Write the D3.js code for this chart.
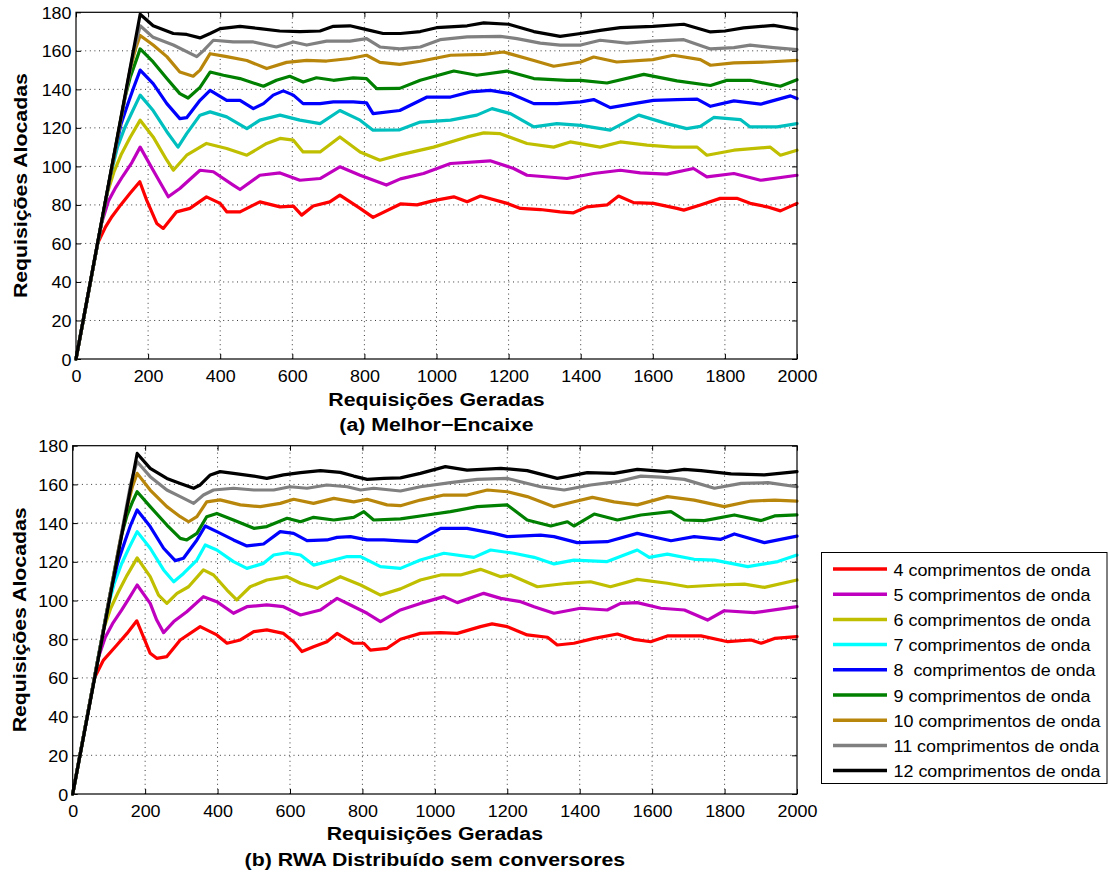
<!DOCTYPE html>
<html><head><meta charset="utf-8">
<script src="https://cdn.jsdelivr.net/npm/d3@7"></script>
<style>body{margin:0;background:#fff} svg{display:block}</style>
</head><body>
<svg id="c" width="1109" height="876"></svg>
<script>
// ---------- data ----------
const xTicks = [0,200,400,600,800,1000,1200,1400,1600,1800,2000];
const yTicks = [0,20,40,60,80,100,120,140,160,180];
const seriesLabels = ["4 comprimentos de onda","5 comprimentos de onda","6 comprimentos de onda",
  "7 comprimentos de onda","8  comprimentos de onda","9 comprimentos de onda",
  "10 comprimentos de onda","11 comprimentos de onda","12 comprimentos de onda"];
const xTitle = "Requisições Geradas";
const yTitle = "Requisições Alocadas";
const subTitleA = "(a) Melhor\u2212Encaixe";
const subTitleB = "(b) RWA Distribuído sem conversores";

// (a) Melhor-Encaixe : [requisições geradas, requisições alocadas]
const a4 = [[0,0],[60,60],[82,68.6],[100,74],[124,80],[150,86],[177,92],[196,82.5],[224,70.4],[242,67.8],[279,76.4],[316,78.2],[362,84.2],[400,80.8],[418,76.4],[455,76.4],[510,81.6],[566,79],[603,79.4],[626,74.7],[658,79.4],[704,81.6],[732,85.1],[788,78.2],[824,73.5],[900,80.5],[946,80],[992,82.2],[1048,84.2],[1085,81.6],[1122,84.6],[1196,80.8],[1233,78.2],[1288,77.6],[1343,76.4],[1380,75.9],[1417,79],[1473,80],[1505,84.6],[1547,81.2],[1602,80.8],[1667,78.2],[1686,77.3],[1732,80],[1787,83.4],[1833,83.4],[1870,80.8],[1917,79],[1954,76.9],[2000,80.8]];
const a5 = [[0,0],[70,70],[90,82],[110,89],[130,95],[155,102],[178,110],[214,98],[256,84.2],[288,88.5],[344,98],[381,97.2],[436,90.3],[455,88],[510,95.4],[566,96.6],[621,92.8],[677,93.7],[732,99.8],[788,95.4],[861,90.3],[900,93.5],[964,96.3],[1039,101.5],[1149,102.9],[1214,98.9],[1251,95.4],[1362,93.7],[1436,96.3],[1510,98],[1565,96.6],[1639,96],[1713,98.9],[1750,94.6],[1825,96.3],[1899,92.8],[2000,95.4]];
const a6 = [[0,0],[85,85],[105,97],[125,106],[150,115],[178,124],[214,115.3],[252,103.2],[270,98],[307,105.8],[362,111.9],[418,109.3],[474,105.8],[529,111.9],[566,114.5],[603,113.6],[630,107.5],[677,107.5],[732,115.3],[788,107.5],[843,103.2],[898,106],[992,110],[1085,115.3],[1131,117.4],[1177,117],[1251,111.9],[1325,110],[1371,112.7],[1454,110],[1510,112.7],[1584,111],[1657,110],[1723,110],[1750,105.8],[1825,108.4],[1926,110],[1954,105.8],[2000,108.4]];
const a7 = [[0,0],[95,95],[115,110],[135,120],[155,128],[178,137],[214,129],[252,118],[283,110],[307,117],[344,126.6],[372,128.3],[418,125.7],[474,119.6],[510,124],[566,126.6],[621,124],[677,122.2],[732,129],[788,124],[824,118.8],[898,119],[955,123],[1039,124],[1112,126.6],[1154,130],[1205,127.4],[1270,120.5],[1334,122.2],[1400,121.3],[1482,118.8],[1561,126.6],[1639,122.2],[1694,119.6],[1732,120.8],[1769,125.4],[1843,124.3],[1870,120.5],[1945,120.5],[2000,122.2]];
const a8 = [[0,0],[105,105],[125,122],[145,133],[160,141],[178,150],[214,143],[252,132.6],[288,124.8],[307,125.3],[344,134.3],[372,139.5],[418,134.3],[455,134.3],[492,130],[520,132.6],[547,137],[575,139.2],[603,137],[630,132.6],[677,132.6],[714,133.5],[769,133.5],[806,133],[824,127.4],[898,129],[974,136],[1039,136],[1094,138.7],[1149,139.5],[1205,137.8],[1270,132.6],[1334,132.6],[1400,133.5],[1436,134.7],[1482,130.5],[1547,132.6],[1602,134.3],[1667,134.7],[1723,134.9],[1760,131.2],[1825,134],[1899,132.3],[1982,136.6],[2000,135.2]];
const a9 = [[0,0],[115,115],[135,135],[150,146],[165,154],[178,161],[214,154.2],[252,145.6],[288,137.8],[311,135.5],[344,141],[372,149],[409,147.3],[455,145.6],[520,141.6],[556,144.7],[593,146.8],[630,143.8],[667,146],[714,144.7],[769,146],[806,145.6],[834,140.4],[898,140.5],[955,144.7],[1048,149.5],[1112,147.3],[1195,149.5],[1270,145.6],[1362,144.7],[1400,144.7],[1473,143.3],[1575,147.8],[1667,144.4],[1760,142],[1806,144.7],[1870,144.7],[1954,141.6],[2000,145]];
const a10 = [[0,0],[130,130],[150,150],[165,161],[178,168],[214,163],[252,157],[288,149],[325,146.8],[344,150],[372,158.5],[418,157],[474,155],[529,150.8],[584,154],[640,155],[695,154.7],[760,156],[806,157.7],[843,154],[898,153],[955,154.6],[1039,157.7],[1131,158.2],[1186,159.4],[1270,155],[1325,152],[1400,154.2],[1436,156.8],[1500,154.2],[1600,155.4],[1657,157.7],[1732,155.4],[1760,152.5],[1825,153.7],[1917,154.2],[2000,155]];
const a11 = [[0,0],[145,145],[160,160],[170,167],[178,173],[214,167],[270,163],[335,157],[353,160],[381,165.5],[436,164.6],[492,164.6],[556,162],[603,164.6],[640,163],[695,165],[760,165],[806,166.3],[843,162],[898,161],[955,162],[1010,165.8],[1085,167.2],[1177,167.5],[1223,166.3],[1288,164],[1343,163],[1400,163],[1454,165.5],[1528,164],[1600,165],[1686,165.8],[1760,161],[1825,161.7],[1870,163],[1935,161.7],[2000,160.6]];
const a12 = [[0,0],[178,179],[214,173],[270,169],[307,168.5],[344,166.7],[372,169],[400,171.5],[455,172.7],[510,171.5],[565,170.3],[621,170],[677,170.3],[714,172.7],[760,173],[806,171],[852,169],[900,169],[955,170],[1000,172],[1085,173],[1131,174.5],[1200,173.8],[1270,170],[1343,167.5],[1400,169],[1454,170.6],[1510,172],[1600,172.7],[1686,173.8],[1760,169.8],[1800,170.3],[1852,171.9],[1935,173.2],[2000,171.2]];

// (b) RWA Distribuído sem conversores
const b4 = [[0,0],[60,60],[85,69.2],[122,77],[150,83],[177,89.5],[195,81.3],[214,72.7],[232,70.1],[260,71],[297,79.6],[352,86.5],[398,82.2],[426,77.9],[463,79.6],[500,83.9],[536,84.8],[582,83],[610,78.7],[633,73.6],[665,76.1],[702,78.7],[730,83],[776,77.9],[804,77.9],[822,74.4],[868,75.3],[905,80],[960,83],[1016,83.4],[1062,83],[1126,86.5],[1158,87.9],[1200,86.5],[1255,82.2],[1311,81],[1338,77],[1384,77.9],[1440,80.4],[1504,82.7],[1550,79.9],[1596,78.7],[1642,81.7],[1735,81.7],[1809,78.7],[1873,79.6],[1901,77.9],[1938,80.4],[2000,81.3]];
const b5 = [[0,0],[70,70],[90,81],[110,88],[135,95],[155,101],[178,108],[214,98.5],[232,89.9],[251,83.4],[279,89.1],[315,94.2],[361,102],[398,99.4],[444,93.4],[481,96.8],[536,97.7],[582,96.8],[629,92.5],[684,95.1],[730,101.1],[767,97.7],[813,93.4],[850,89.1],[905,95.1],[960,98.5],[1025,102],[1062,98.9],[1135,103.7],[1182,101.1],[1237,99.4],[1274,96.8],[1329,93.4],[1402,96],[1476,95.1],[1513,98.5],[1559,98.9],[1624,96],[1689,95.1],[1753,89.9],[1799,94.7],[1882,93.7],[2000,96.8]];
const b6 = [[0,0],[85,85],[105,96],[125,104],[150,113],[178,122],[214,112.3],[237,102.8],[260,98.5],[288,103.7],[320,107.1],[361,115.8],[389,113.2],[426,105.4],[453,100.3],[490,107.1],[536,110.6],[592,112.3],[629,108.9],[675,106.3],[721,110.6],[739,112.3],[795,108],[850,102.8],[905,106],[960,110.6],[1016,113.2],[1071,113.2],[1126,116.1],[1182,112.3],[1209,113.2],[1283,107.1],[1366,108.9],[1430,109.7],[1485,107.1],[1559,110.9],[1642,108.9],[1698,107.1],[1781,108],[1855,108.5],[1910,106.8],[2000,110.6]];
const b7 = [[0,0],[95,95],[115,109],[135,119],[155,127],[178,135.6],[214,127],[251,115.8],[279,109.7],[306,114],[343,120.9],[366,128.7],[398,126.1],[444,120.1],[481,116.6],[527,119.2],[555,123.5],[592,124.7],[629,123.5],[665,118.3],[721,120.9],[758,122.7],[795,122.7],[850,117.5],[905,116.6],[960,120.9],[1025,124.4],[1108,122.3],[1154,126.1],[1218,124.4],[1274,122.3],[1329,118.9],[1384,120.9],[1476,120.1],[1559,126.1],[1592,122.3],[1642,124],[1716,121.3],[1772,120.9],[1864,117.5],[1910,118.9],[1947,120.1],[2000,123.5]];
const b8 = [[0,0],[105,105],[125,120],[145,131],[160,139],[178,146.8],[214,138.2],[251,127],[283,120.6],[306,121.8],[343,131.3],[366,138.5],[398,135.6],[444,131.3],[481,128.2],[527,129.2],[573,135.6],[610,134.7],[647,130.9],[702,131.3],[730,132.6],[767,133],[813,131.3],[859,131.3],[905,130.8],[951,130.4],[1016,137.3],[1089,137.3],[1163,134.7],[1200,133],[1292,133.8],[1329,133],[1393,129.9],[1476,130.4],[1559,134.7],[1652,130.9],[1716,133],[1790,131.6],[1827,134.4],[1910,129.9],[2000,133.3]];
const b9 = [[0,0],[115,115],[135,134],[150,144],[165,151],[178,156.2],[214,148.5],[260,139],[297,132.1],[315,131.3],[343,134.7],[370,143.3],[398,145],[444,141.6],[500,137.3],[536,138.2],[592,142.5],[629,140.7],[665,143],[721,141.6],[776,143],[804,145.9],[831,141.6],[905,142.2],[979,144.2],[1043,145.9],[1117,148.5],[1200,149.4],[1255,141.6],[1320,138.5],[1366,140.7],[1384,138.5],[1440,144.7],[1504,141.6],[1569,144.2],[1652,145.9],[1689,141.6],[1744,141.3],[1827,144.2],[1901,141.3],[1938,143.7],[2000,144.2]];
const b10 = [[0,0],[130,130],[150,148],[165,159],[178,165.7],[214,157.1],[260,148.5],[297,143.3],[320,140.7],[343,143.3],[370,151],[407,152],[463,149.4],[518,148.5],[573,150.2],[610,152.3],[665,150.2],[721,152.8],[776,151],[813,152.3],[868,149.4],[905,149],[960,151.9],[1025,154.5],[1089,154.5],[1145,157.1],[1200,156.2],[1255,153.7],[1329,148.5],[1384,151],[1435,153.3],[1495,151],[1559,149.4],[1642,153.7],[1716,151.9],[1799,148.5],[1873,151.4],[1938,151.9],[2000,151.4]];
const b11 = [[0,0],[145,145],[160,160],[170,167],[178,171.7],[214,164],[260,157.1],[297,153.7],[334,150.2],[361,154.5],[389,157.1],[444,158],[500,157.1],[555,157.1],[600,158.8],[647,158],[702,159.7],[758,158.8],[795,157.1],[831,158],[905,156.6],[960,158.8],[1043,160.9],[1117,162.6],[1200,163.1],[1292,158.8],[1357,157.1],[1430,159.7],[1504,161.4],[1569,164.3],[1624,163.8],[1689,162.6],[1772,158],[1846,160.5],[1920,160.9],[2000,158.8]];
const b12 = [[0,0],[178,176],[214,168.3],[260,163.1],[297,160.5],[334,158],[352,159.7],[380,164.9],[407,166.6],[444,165.7],[500,164.3],[536,163.1],[582,164.9],[629,166.1],[684,167.1],[739,166.2],[776,164.3],[813,162.6],[859,163.1],[905,163.4],[960,165.7],[1029,169.2],[1089,167.4],[1182,168.3],[1255,167.1],[1338,163.1],[1421,166.1],[1495,165.7],[1559,167.8],[1642,166.6],[1689,167.8],[1735,167.1],[1818,165.4],[1910,164.9],[2000,166.6]];

// ---------- styles ----------
const colorsA = ["#ff0000","#bf00bf","#bfbf00","#00bfbf","#0000ff","#008000","#b8860b","#808080","#000000"];
const colorsB = ["#ff0000","#bf00bf","#bfbf00","#00ffff","#0000ff","#008000","#b8860b","#808080","#000000"];
const FONT = "Arial, 'Liberation Sans', Helvetica, sans-serif";
const SX = 1.12;

const svg = d3.select("#c");

function stext(g, x, y, str, size, weight, anchor, rot) {
  return g.append("text")
    .attr("transform", `translate(${x},${y})` + (rot ? ` rotate(${rot})` : "") + ` scale(${SX},1)`)
    .attr("text-anchor", anchor || "middle")
    .style("font-family", FONT).style("font-size", size + "px").style("font-weight", weight || "normal")
    .style("white-space", "pre")
    .attr("fill", "#000")
    .text(str);
}

function panel(cfg) {
  const x = d3.scaleLinear().domain([0, 2000]).range([cfg.left, cfg.right]);
  const y = d3.scaleLinear().domain([0, 180]).range([cfg.bottom, cfg.top]);
  const g = svg.append("g");

  // grid
  const grid = g.append("g").attr("stroke", "#3a3a3a").attr("stroke-width", 1).attr("stroke-dasharray", "1,3.6");
  xTicks.slice(1, -1).forEach(t => grid.append("line").attr("x1", x(t)).attr("x2", x(t)).attr("y1", cfg.bottom).attr("y2", cfg.top));
  yTicks.slice(1, -1).forEach(t => grid.append("line").attr("y1", y(t)).attr("y2", y(t)).attr("x1", cfg.left).attr("x2", cfg.right));

  // axes (inward ticks on all four sides)
  const ax = g.append("g").attr("transform", `translate(0,${cfg.bottom})`)
    .call(d3.axisBottom(x).tickValues(xTicks).tickFormat(d3.format("d")).tickSize(-5).tickSizeOuter(0));
  ax.selectAll("text").attr("y", null).attr("dy", null)
    .attr("transform", `translate(0,23) scale(${SX},1)`)
    .style("font-family", FONT).style("font-size", "16px").attr("fill", "#000");
  const ay = g.append("g").attr("transform", `translate(${cfg.left},0)`)
    .call(d3.axisLeft(y).tickValues(yTicks).tickFormat(d3.format("d")).tickSize(-5).tickSizeOuter(0));
  ay.selectAll("text").attr("x", null).attr("dy", null)
    .attr("transform", `translate(${cfg.labelGap},6) scale(${SX},1)`)
    .style("font-family", FONT).style("font-size", "16px").attr("fill", "#000");
  g.append("g").attr("transform", `translate(0,${cfg.top})`)
    .call(d3.axisTop(x).tickValues(xTicks).tickSize(-5).tickSizeOuter(0).tickFormat(""));
  g.append("g").attr("transform", `translate(${cfg.right},0)`)
    .call(d3.axisRight(y).tickValues(yTicks).tickSize(-5).tickSizeOuter(0).tickFormat(""));
  g.selectAll(".domain").remove();
  g.selectAll(".tick line").attr("stroke", "#000");

  // series
  const line = d3.line().x(d => x(d[0])).y(d => y(d[1]));
  cfg.series.forEach((s, i) => {
    g.append("path").datum(s).attr("d", line)
      .attr("fill", "none").attr("stroke", cfg.colors[i]).attr("stroke-width", 3.2)
      .attr("stroke-linejoin", "round").attr("stroke-linecap", "round");
  });

  // frame
  g.append("rect").attr("x", cfg.left).attr("y", cfg.top)
    .attr("width", cfg.right - cfg.left).attr("height", cfg.bottom - cfg.top)
    .attr("fill", "none").attr("stroke", "#000").attr("stroke-width", 1.2);

  // titles
  const cx = (cfg.left + cfg.right) / 2;
  stext(g, cx, cfg.xTitleY, xTitle, 19, "bold");
  stext(g, cx, cfg.subY, cfg.sub, 19, "bold");
  stext(g, cfg.yTitleX, (cfg.top + cfg.bottom) / 2, yTitle, 19, "bold", "middle", -90);
}

panel({left: 76, right: 797, top: 12.3, bottom: 359, labelGap: -4.5,
  series: [a4,a5,a6,a7,a8,a9,a10,a11,a12], colors: colorsA,
  xTitleY: 405.5, subY: 431, sub: subTitleA, yTitleX: 27});
panel({left: 72.7, right: 797, top: 445.7, bottom: 794, labelGap: -4.5,
  series: [b4,b5,b6,b7,b8,b9,b10,b11,b12], colors: colorsB,
  xTitleY: 840, subY: 866, sub: subTitleB, yTitleX: 26});

// legend
const lg = svg.append("g");
lg.append("rect").attr("x", 821.5).attr("y", 552.5).attr("width", 285.5).attr("height", 231)
  .attr("fill", "#fff").attr("stroke", "#000").attr("stroke-width", 1);
seriesLabels.forEach((lab, i) => {
  const yy = 569 + i * 25.2;
  lg.append("line").attr("x1", 833).attr("x2", 887).attr("y1", yy).attr("y2", yy)
    .attr("stroke", colorsB[i]).attr("stroke-width", 3.5);
  stext(lg, 893.5, yy + 6.5, lab, 16, "normal", "start");
});
</script>
</body></html>
